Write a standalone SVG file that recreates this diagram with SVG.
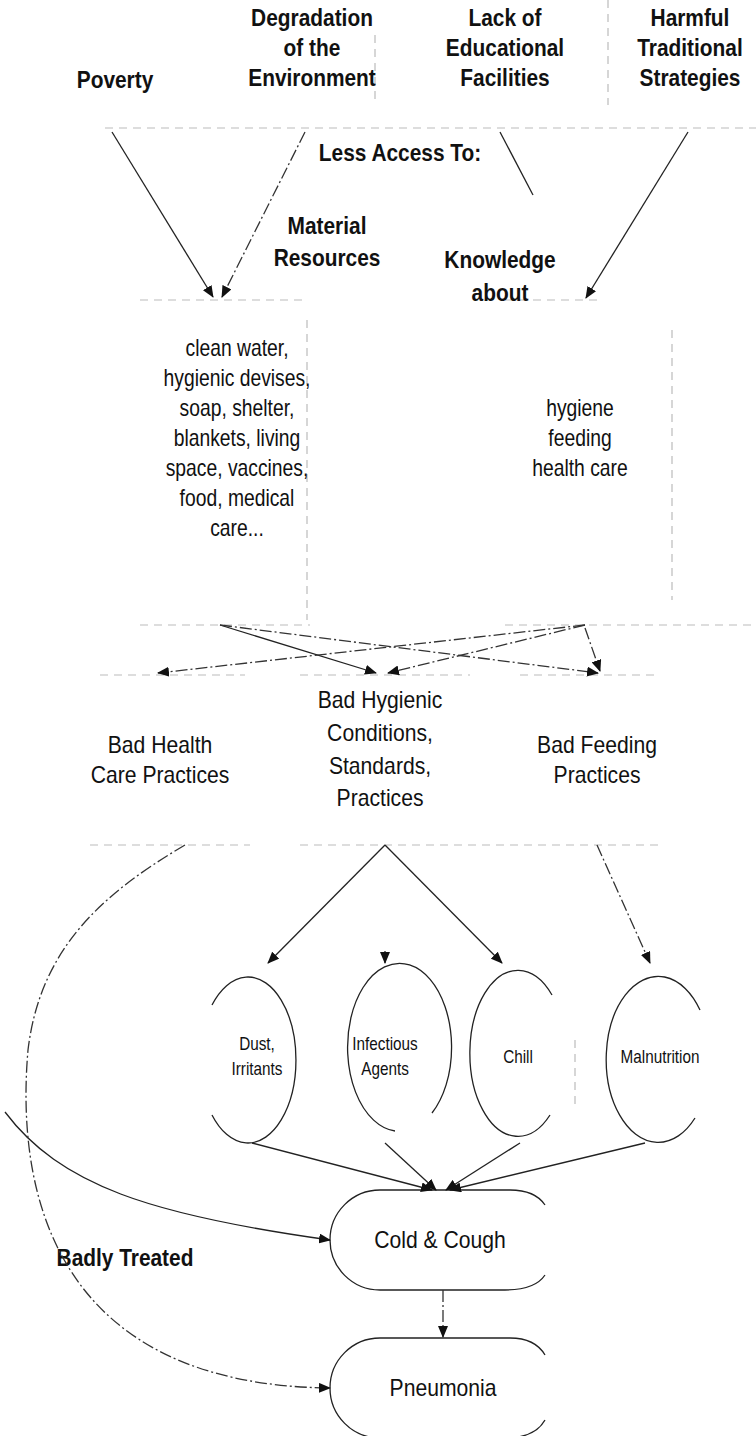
<svg xmlns="http://www.w3.org/2000/svg" width="756" height="1436" viewBox="0 0 756 1436">
<defs>
<marker id="ah" viewBox="0 0 12 10" refX="11" refY="5" markerWidth="12" markerHeight="10" markerUnits="userSpaceOnUse" orient="auto">
<path d="M0,0 L12,5 L0,10 z" fill="#111"/>
</marker>
<style>
.b{font-family:"Liberation Sans",Arial,sans-serif;font-weight:bold;font-size:24px;fill:#111;text-anchor:middle}
.r{font-family:"Liberation Sans",Arial,sans-serif;font-size:23px;fill:#111;text-anchor:middle}
.m{font-family:"Liberation Sans",Arial,sans-serif;font-size:23px;fill:#111;text-anchor:middle}
.s{font-family:"Liberation Sans",Arial,sans-serif;font-size:18px;fill:#111;text-anchor:middle}
.c{fill:none;stroke:#222;stroke-width:1.3}
.d{fill:none;stroke:#333;stroke-width:1.3;stroke-dasharray:12 3 2 3}
.f{fill:none;stroke:#bbb;stroke-width:1.2;stroke-dasharray:8 6}
.o{fill:none;stroke:#222;stroke-width:1.3}
</style>
</defs>
<rect width="756" height="1436" fill="#fff"/>

<g id="faint">
<path class="f" d="M105,128 H756 M608,0 V105 M375,35 V100 M140,300 H305 M505,300 H600 M307,320 V620 M672,330 V600 M140,625 H310 M505,625 H756 M100,675 H245 M300,675 H470 M520,675 H660 M90,845 H250 M300,845 H660 M575,1040 V1110"/>
</g>

<g id="poverty"><text class="b" transform="translate(115,88) scale(0.87,1)">Poverty</text></g>
<g id="degradation"><text class="b" transform="translate(312,26) scale(0.87,1)">Degradation</text><text class="b" transform="translate(312,56) scale(0.87,1)">of the</text><text class="b" transform="translate(312,86) scale(0.87,1)">Environment</text></g>
<g id="education"><text class="b" transform="translate(505,26) scale(0.87,1)">Lack of</text><text class="b" transform="translate(505,56) scale(0.87,1)">Educational</text><text class="b" transform="translate(505,86) scale(0.87,1)">Facilities</text></g>
<g id="harmful"><text class="b" transform="translate(690,26) scale(0.87,1)">Harmful</text><text class="b" transform="translate(690,56) scale(0.87,1)">Traditional</text><text class="b" transform="translate(690,86) scale(0.87,1)">Strategies</text></g>
<g id="less-access"><text class="b" transform="translate(400,161) scale(0.87,1)">Less Access To:</text></g>
<g id="material"><text class="b" transform="translate(327,234) scale(0.87,1)">Material</text><text class="b" transform="translate(327,266) scale(0.87,1)">Resources</text>
<text class="m" transform="translate(237,356) scale(0.84,1)">clean water,</text><text class="m" transform="translate(237,386) scale(0.84,1)">hygienic devises,</text><text class="m" transform="translate(237,416) scale(0.84,1)">soap, shelter,</text><text class="m" transform="translate(237,446) scale(0.84,1)">blankets, living</text><text class="m" transform="translate(237,476) scale(0.84,1)">space, vaccines,</text><text class="m" transform="translate(237,506) scale(0.84,1)">food, medical</text><text class="m" transform="translate(237,536) scale(0.84,1)">care...</text></g>
<g id="knowledge"><text class="b" transform="translate(500,268) scale(0.87,1)">Knowledge</text><text class="b" transform="translate(500,301) scale(0.87,1)">about</text>
<text class="m" transform="translate(580,416) scale(0.84,1)">hygiene</text><text class="m" transform="translate(580,446) scale(0.84,1)">feeding</text><text class="m" transform="translate(580,476) scale(0.84,1)">health care</text></g>
<g id="bad-health"><text class="r" transform="translate(160,753) scale(0.92,1)">Bad Health</text><text class="r" transform="translate(160,783) scale(0.92,1)">Care Practices</text></g>
<g id="bad-hygienic"><text class="r" transform="translate(380,708) scale(0.92,1)">Bad Hygienic</text><text class="r" transform="translate(380,741) scale(0.92,1)">Conditions,</text><text class="r" transform="translate(380,774) scale(0.92,1)">Standards,</text><text class="r" transform="translate(380,806) scale(0.92,1)">Practices</text></g>
<g id="bad-feeding"><text class="r" transform="translate(597,753) scale(0.92,1)">Bad Feeding</text><text class="r" transform="translate(597,783) scale(0.92,1)">Practices</text></g>

<g id="dust"><path class="o" d="M212,1005 A48,83 0 1 1 212,1115"/><text class="s" transform="translate(257,1050) scale(0.85,1)">Dust,</text><text class="s" transform="translate(257,1075) scale(0.85,1)">Irritants</text></g>
<g id="infectious"><path class="o" d="M395,1131 A52,84 0 1 1 432,1113"/><text class="s" transform="translate(385,1050) scale(0.85,1)">Infectious</text><text class="s" transform="translate(385,1075) scale(0.85,1)">Agents</text></g>
<g id="chill"><path class="o" d="M552,995 A48,83 0 1 0 550,1115"/><text class="s" transform="translate(518,1063) scale(0.85,1)">Chill</text></g>
<g id="malnutrition"><path class="o" d="M700,1010 A52,83 0 1 0 695,1118"/><text class="s" transform="translate(660,1063) scale(0.85,1)">Malnutrition</text></g>

<g id="cold-cough"><path class="o" d="M545,1205 Q535,1190 510,1190 H380 A50,50 0 0 0 380,1290 H505 Q535,1290 545,1275"/><text class="r" transform="translate(440,1248) scale(0.92,1)">Cold &amp; Cough</text></g>
<g id="pneumonia"><path class="o" d="M545,1355 Q535,1338 510,1338 H380 A50,50 0 0 0 380,1438 H505 Q535,1438 545,1420"/><text class="r" transform="translate(443,1396) scale(0.92,1)">Pneumonia</text></g>
<g id="badly-treated"><text class="b" transform="translate(125,1266) scale(0.87,1)">Badly Treated</text></g>

<g id="connectors">
<path class="c" d="M112,132 L213,297" marker-end="url(#ah)"/>
<path class="d" d="M305,132 L222,297" marker-end="url(#ah)"/>
<path class="c" d="M500,132 L533,195"/>
<path class="c" d="M688,132 L586,298" marker-end="url(#ah)"/>
<path class="c" d="M220,625 L376,673" marker-end="url(#ah)"/>
<path class="d" d="M220,625 L598,673" marker-end="url(#ah)"/>
<path class="d" d="M585,625 L158,673" marker-end="url(#ah)"/>
<path class="d" d="M585,625 L388,673" marker-end="url(#ah)"/>
<path class="d" d="M585,628 L600,671" marker-end="url(#ah)"/>
<path class="c" d="M385,845 L268,963" marker-end="url(#ah)"/>
<path class="c" d="M385,845 L502,963" marker-end="url(#ah)"/>
<path class="c" d="M385,951 L385,963" marker-end="url(#ah)"/>
<path class="d" d="M597,845 L650,963" marker-end="url(#ah)"/>
<path class="c" d="M252,1143 L432,1190" marker-end="url(#ah)"/>
<path class="c" d="M385,1143 L436,1190" marker-end="url(#ah)"/>
<path class="c" d="M520,1143 L446,1190" marker-end="url(#ah)"/>
<path class="c" d="M645,1143 L450,1190" marker-end="url(#ah)"/>
<path class="d" d="M443,1290 V1337" marker-end="url(#ah)"/>
<path class="c" d="M5,1112 C60,1185 150,1215 330,1240" marker-end="url(#ah)"/>
<path class="d" d="M185,845 C100,895 40,950 28,1050 C15,1200 60,1385 330,1388" marker-end="url(#ah)"/>
</g>
</svg>
